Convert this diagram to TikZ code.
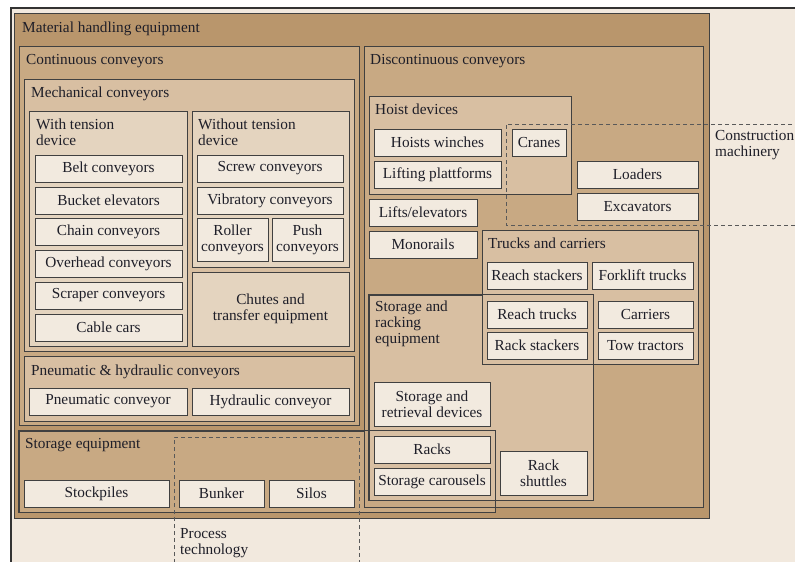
\documentclass[tikz,border=0pt]{standalone}
\usepackage{fontspec}
\setmainfont{Liberation Serif}
\usetikzlibrary{fit}

\definecolor{pagebg}{HTML}{F2E9DE}
\definecolor{outerc}{HTML}{B9966C}
\definecolor{grpc}{HTML}{C8A983}
\definecolor{subc}{HTML}{D8BFA2}
\definecolor{innc}{HTML}{E4D4BF}
\definecolor{leafc}{HTML}{F2EADF}
\definecolor{inkc}{HTML}{1E1E28}

\tikzset{
  box/.style={draw=black!75, line width=0.8pt, inner sep=0pt},
  outerbox/.style={box, fill=outerc},
  groupbox/.style={box, fill=grpc},
  subbox/.style={box, fill=subc},
  innerbox/.style={box, fill=innc, align=center},
  leaf/.style={box, fill=leafc, align=center, minimum height=27pt},
  title/.style={anchor=base west, inner sep=0pt},
  titletwo/.style={anchor=west, inner sep=0pt, align=left},
  regionline/.style={draw=black!65, line width=0.8pt, dash pattern=on 4pt off 3pt},
}

\begin{document}
\begin{tikzpicture}[x=1pt,y=-1pt,font=\fontsize{15.3}{16}\selectfont,text=inkc]
  \useasboundingbox (0,0) rectangle (795,562);
  \clip (0,0) rectangle (795,562);
  \fill[white] (0,0) rectangle (795,562);
  \draw[line width=1.6pt, draw=black!80, fill=pagebg] (11,8) rectangle (820,580);

  % Material handling equipment
  \node[outerbox, fit={(14,13) (709,518)}] (Material) {};
  \node[title] (MaterialT) at (22,32) {Material handling equipment};

  % Continuous conveyors
  \node[groupbox, fit={(19,46) (359,425)}] (Continuous) {};
  \node[title] (ContinuousT) at (26,64) {Continuous conveyors};

  \node[subbox, fit={(24,79) (354,351)}] (Mechanical) {};
  \node[title] (MechanicalT) at (31,97) {Mechanical conveyors};

  \node[innerbox, fit={(29,111) (187,346)}] (WithTension) {};
  \node[titletwo] (WithTensionT) at (36,132) {With tension\\device};
  \node[leaf, minimum width=147pt] (Belt) at (108.5,168.5) {Belt conveyors};
  \node[leaf, minimum width=147pt] (Bucket) at (108.5,200.5) {Bucket elevators};
  \node[leaf, minimum width=147pt] (Chain) at (108.5,231.5) {Chain conveyors};
  \node[leaf, minimum width=147pt] (Overhead) at (108.5,263.5) {Overhead conveyors};
  \node[leaf, minimum width=147pt] (Scraper) at (108.5,295.5) {Scraper conveyors};
  \node[leaf, minimum width=147pt] (Cable) at (108.5,327.5) {Cable cars};

  \node[innerbox, fit={(192,111) (349,267)}] (WithoutTension) {};
  \node[titletwo] (WithoutTensionT) at (198,132) {Without tension\\device};
  \node[leaf, minimum width=146pt] (Screw) at (270,168.5) {Screw conveyors};
  \node[leaf, minimum width=146pt] (Vibratory) at (270,200.5) {Vibratory conveyors};
  \node[leaf, minimum width=71pt, minimum height=43pt] (Roller) at (232.5,239.5) {Roller\\conveyors};
  \node[leaf, minimum width=71pt, minimum height=43pt] (Push) at (307.5,239.5) {Push\\conveyors};

  \node[innerbox, minimum width=157pt, minimum height=74pt] (Chutes) at (270.5,309) {Chutes and\\transfer equipment};

  \node[subbox, fit={(24,356) (354,421)}] (Pneumatic) {};
  \node[title] (PneumaticT) at (31,375) {Pneumatic \& hydraulic conveyors};
  \node[leaf, minimum width=158pt] (PneuConv) at (108,401.5) {Pneumatic conveyor};
  \node[leaf, minimum width=157pt] (HydrConv) at (270.5,401.5) {Hydraulic conveyor};

  % Storage equipment
  \node[groupbox, fit={(19,431) (495,512)}] (StorageEq) {};
  \node[title] (StorageEqT) at (25,448) {Storage equipment};
  \node[leaf, minimum width=145pt] (Stockpiles) at (96.5,493.5) {Stockpiles};
  \node[leaf, minimum width=85pt] (Bunker) at (221.5,493.5) {Bunker};
  \node[leaf, minimum width=85pt] (Silos) at (311.5,493.5) {Silos};

  % Discontinuous conveyors
  \node[groupbox, fit={(364,46) (703,507)}] (Discontinuous) {};
  \node[title] (DiscontinuousT) at (370,64) {Discontinuous conveyors};

  \node[subbox, fit={(369,96) (571,194)}] (Hoist) {};
  \node[title] (HoistT) at (375,114) {Hoist devices};
  \node[leaf, minimum width=127pt] (Winches) at (437.5,142.5) {Hoists winches};
  \node[leaf, minimum width=127pt] (Plattforms) at (437.5,174.5) {Lifting plattforms};
  \node[leaf, minimum width=54pt] (Cranes) at (539,142.5) {Cranes};

  \node[leaf, minimum width=108pt] (Lifts) at (423,212.5) {Lifts/elevators};
  \node[leaf, minimum width=108pt] (Monorails) at (423,244.5) {Monorails};
  \node[leaf, minimum width=121pt] (Loaders) at (637.5,174.5) {Loaders};
  \node[leaf, minimum width=121pt] (Excavators) at (637.5,206.5) {Excavators};

  \node[subbox, fit={(369,295) (593,500)}] (StorRack) {};
  \node[subbox, fit={(482,230) (698,364)}] (Trucks) {};
  \draw[box] (StorRack.north west) rectangle (StorRack.south east);
  \node[title] (TrucksT) at (488,248) {Trucks and carriers};
  \node[titletwo] (StorRackT) at (375,324) {Storage and\\racking\\equipment};

  \node[leaf, minimum width=100pt] (ReachSt) at (537,275.5) {Reach stackers};
  \node[leaf, minimum width=101pt] (Forklift) at (642.5,275.5) {Forklift trucks};
  \node[leaf, minimum width=100pt] (ReachTr) at (537,314.5) {Reach trucks};
  \node[leaf, minimum width=95pt] (Carriers) at (645.5,314.5) {Carriers};
  \node[leaf, minimum width=100pt] (RackSt) at (537,345.5) {Rack stackers};
  \node[leaf, minimum width=95pt] (Tow) at (645.5,345.5) {Tow tractors};

  \node[leaf, minimum width=116pt, minimum height=44pt] (Retrieval) at (432,404) {Storage and\\retrieval devices};
  \node[leaf, minimum width=116pt] (Racks) at (432,449.5) {Racks};
  \node[leaf, minimum width=116pt] (Carousels) at (432,481.5) {Storage carousels};
  \node[leaf, minimum width=87pt, minimum height=44pt] (Shuttles) at (543.5,473) {Rack\\shuttles};

  \draw[box] (StorageEq.north west) rectangle (StorageEq.south east);

  % Process technology / construction machinery
  \draw[regionline] (174,570) -- (174,437) -- (359,437) -- (359,570);
  \node[titletwo] (ProcessT) at (180,543) {Process\\technology};
  \draw[regionline] (820,124) -- (506,124) -- (506,225) -- (820,225);
  \node[titletwo] (ConstructionT) at (715,145) {Construction\\machinery};
\end{tikzpicture}
\end{document}
